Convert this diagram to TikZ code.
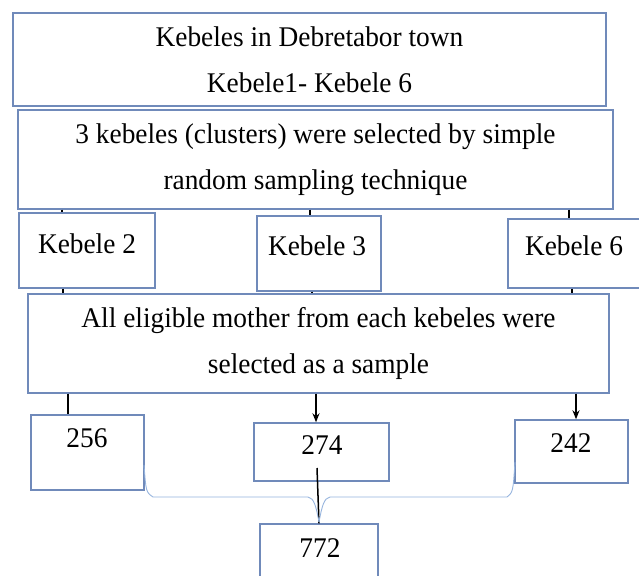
\documentclass[tikz,border=0pt]{standalone}
\usepackage{fontspec}
\setmainfont{Liberation Serif}[FakeStretch=0.96]
\usetikzlibrary{arrows.meta,calc}
\definecolor{boxblue}{RGB}{112,138,186}
\definecolor{braceblue}{RGB}{150,180,222}
\begin{document}
\begin{tikzpicture}[x=1pt,y=-1pt,
  box/.style={draw=boxblue, line width=1.4pt, inner sep=0pt, align=center,
    font=\fontsize{28.5}{46}\selectfont},
  lbl/.style={inner sep=0pt, font=\fontsize{28.5}{46}\selectfont},
  conn/.style={line width=1.5pt, black},
  arr/.style={conn, -{Stealth[length=9pt,width=7pt]}},
  brace/.style={draw=braceblue, line width=0.9pt}]
\useasboundingbox (0,0) rectangle (639,575);
\clip (0,0) rectangle (639,575);
\fill[white] (0,0) rectangle (639,575);
% boxes
\node[box, minimum width=593pt, minimum height=93pt] (b1) at (309.5,59.5)
  {Kebeles in Debretabor town\\Kebele1- Kebele 6};
\node[box, minimum width=595pt, minimum height=99pt] (b2) at (315.5,159.5)
  {3 kebeles (clusters) were selected by simple\\random sampling technique};
\node[box, minimum width=136pt, minimum height=75pt] (k2) at (87,250.5) {};
\node[box, minimum width=124pt, minimum height=75pt] (k3) at (319,253.5) {};
\node[box, minimum width=142pt, minimum height=69pt] (k6) at (579,253.5) {};
\node[lbl] (t2) at (87,244) {Kebele 2};
\node[lbl] (t3) at (317,246) {Kebele 3};
\node[lbl] (t6) at (574,246) {Kebele 6};
\node[box, minimum width=581pt, minimum height=99pt] (b3) at (318.5,343.5)
  {All eligible mother from each kebeles were\\selected as a sample};
\node[box, minimum width=113pt, minimum height=75pt] (n256) at (87.5,452.5) {};
\node[box, minimum width=135pt, minimum height=58pt] (n274) at (321.5,452) {};
\node[box, minimum width=113pt, minimum height=63pt] (n242) at (571.5,451.5) {};
\node[box, minimum width=118pt, minimum height=66pt] (n772) at (319,557) {};
\node[lbl] (t256) at (87,438) {256};
\node[lbl] (t274) at (322,445) {274};
\node[lbl] (t242) at (571,443) {242};
\node[lbl] (t772) at (320,548) {772};
% column coordinates
\coordinate (a1) at (62,0);  \coordinate (a2) at (310,0); \coordinate (a3) at (569,0);
\coordinate (c1) at (63,0);  \coordinate (c2) at (312,0); \coordinate (c3) at (572,0);
\coordinate (e1) at (68,0);  \coordinate (e2) at (316,0); \coordinate (e3) at (576,0);
% connectors
\draw[conn] (a1 |- b2.south) -- (a1 |- k2.north);
\draw[conn] (a2 |- b2.south) -- (a2 |- k3.north);
\draw[conn] (a3 |- b2.south) -- (a3 |- k6.north);
\draw[conn] (c1 |- k2.south) -- (c1 |- b3.north);
\draw[conn] (c2 |- k3.south) -- (c2 |- b3.north);
\draw[conn] (c3 |- k6.south) -- (c3 |- b3.north);
\draw[conn] (e1 |- b3.south) -- (e1 |- n256.north);
\draw[arr] (e2 |- b3.south) -- (e2 |- n274.north);
\draw[arr] (e3 |- b3.south) -- (e3 |- n242.north);
\coordinate (m1) at (317,468);
\draw[conn] (m1) -- (n772.north);
% brace
\coordinate (bl) at (144,465);
\coordinate (br) at (515,462);
\coordinate (btip) at (319,522);
\draw[brace] (bl) .. controls (146,492) .. (153,497) -- (308,497)
  .. controls (314,498) and (316,506) .. (btip);
\draw[brace] (br) .. controls (513,492) .. (507,497) -- (330,497)
  .. controls (324,498) and (322,506) .. (btip);
\end{tikzpicture}
\end{document}
